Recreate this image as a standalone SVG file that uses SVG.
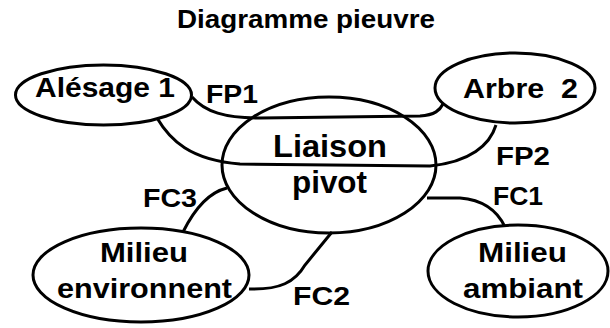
<svg xmlns="http://www.w3.org/2000/svg" width="610" height="328" viewBox="0 0 610 328">
<style>
.n{fill:#fff;stroke:#000;stroke-width:3}
.c{fill:none;stroke:#000;stroke-width:3}
text{font-family:"Liberation Sans",Arial,sans-serif;font-weight:bold;fill:#000}
.t{font-size:27px}
.l{font-size:26px}
</style>
<rect width="610" height="328" fill="#fff"/>
<text x="177" y="28" font-size="26" textLength="258" lengthAdjust="spacingAndGlyphs">Diagramme pieuvre</text>
<g id="connectors">
<path class="c" d="M192,97 C205,112 225,118 260,118 L420,116 C435,115 440,110 443,104"/>
<path class="c" d="M157,118 C170,140 190,160 240,164 L430,166 C470,162 490,145 496,125"/>
<path class="c" d="M183,232 C195,208 210,192 227,188"/>
<path class="c" d="M249,289 C280,290 295,282 305,265 L332,232"/>
<path class="c" d="M427,198 L460,198 C485,200 498,212 505,227"/>
</g>
<g id="liaison">
<ellipse class="n" cx="329" cy="165" rx="107" ry="68" style="fill:none"/>
<text x="273" y="157" font-size="31" textLength="114" lengthAdjust="spacingAndGlyphs">Liaison</text>
<text x="292" y="193" font-size="31" textLength="75" lengthAdjust="spacingAndGlyphs">pivot</text>
</g>
<g id="alesage">
<ellipse class="n" cx="103.5" cy="95" rx="88" ry="30"/>
<text class="t" x="35" y="97" textLength="140" lengthAdjust="spacingAndGlyphs">Alésage 1</text>
</g>
<g id="arbre">
<ellipse class="n" cx="515" cy="88" rx="80" ry="35"/>
<text class="t" x="463" y="98" textLength="115" lengthAdjust="spacingAndGlyphs" xml:space="preserve">Arbre  2</text>
</g>
<g id="milieu-env">
<ellipse class="n" cx="141" cy="275" rx="108" ry="47"/>
<text class="t" x="100" y="262" textLength="88" lengthAdjust="spacingAndGlyphs">Milieu</text>
<text class="t" x="57" y="298" textLength="175" lengthAdjust="spacingAndGlyphs">environnent</text>
</g>
<g id="milieu-amb">
<ellipse class="n" cx="518" cy="271" rx="90" ry="46"/>
<text class="t" x="478" y="262" textLength="89" lengthAdjust="spacingAndGlyphs">Milieu</text>
<text class="t" x="463" y="298" textLength="120" lengthAdjust="spacingAndGlyphs">ambiant</text>
</g>
<g id="labels">
<text class="l" x="206" y="103" textLength="52" lengthAdjust="spacingAndGlyphs">FP1</text>
<text class="l" x="496" y="165" textLength="54" lengthAdjust="spacingAndGlyphs">FP2</text>
<text class="l" x="493" y="205" textLength="50" lengthAdjust="spacingAndGlyphs">FC1</text>
<text class="l" x="143" y="207" textLength="54" lengthAdjust="spacingAndGlyphs">FC3</text>
<text class="l" x="293" y="305" textLength="57" lengthAdjust="spacingAndGlyphs">FC2</text>
</g>
</svg>
